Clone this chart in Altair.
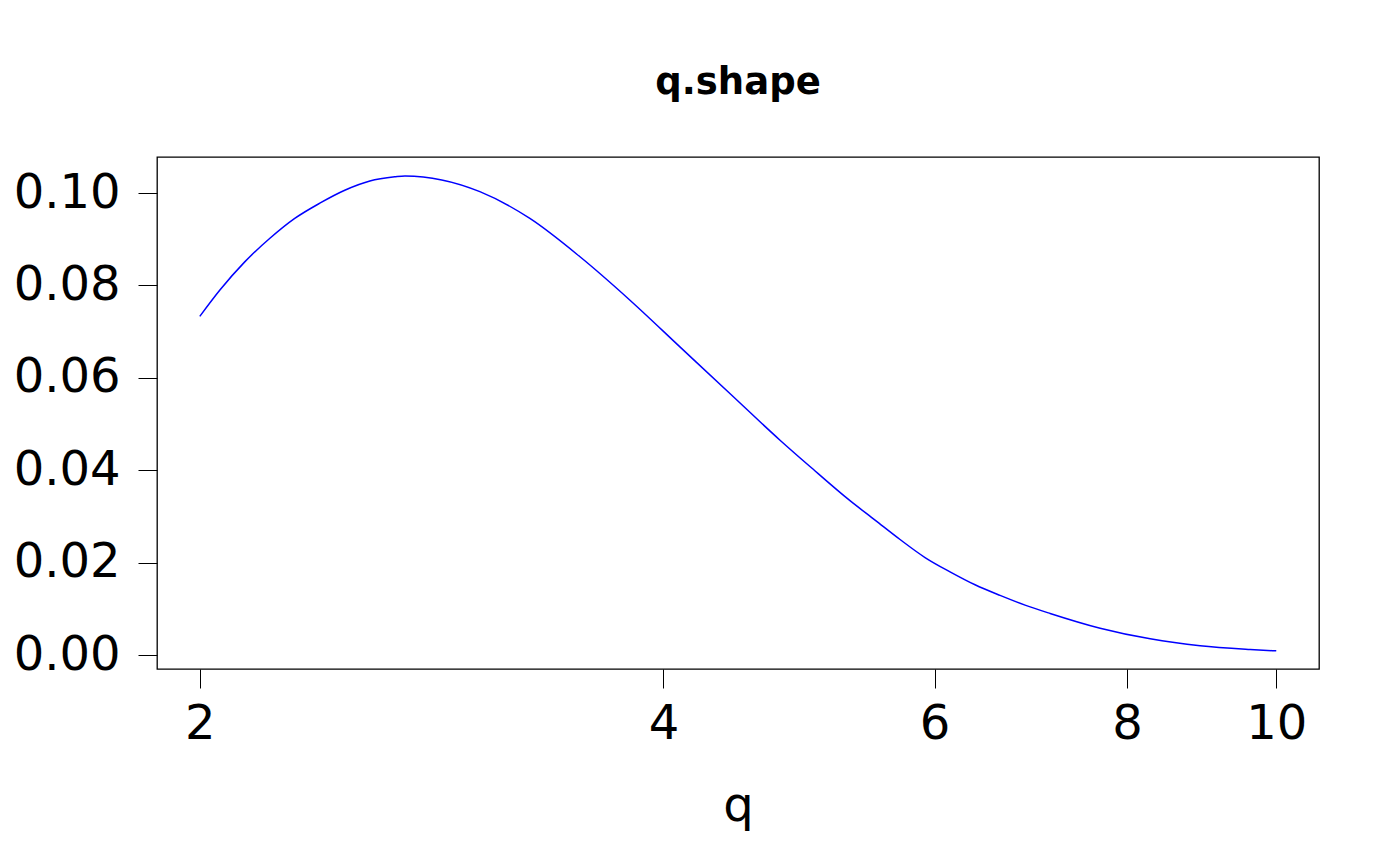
import altair as alt
import pandas as pd

q_vals = [2.000, 2.061, 2.139, 2.221, 2.305, 2.393, 2.484, 2.579, 2.677, 2.718,
          3.040, 3.276, 3.531, 3.805, 4.100, 4.418, 4.762, 4.980, 5.287, 5.489,
          5.698, 5.915, 6.140, 6.374, 6.617, 6.869, 7.131, 7.685, 8.282, 8.924,
          9.617, 10.000]
shape_vals = [0.0733, 0.0790, 0.0851, 0.0902, 0.0945, 0.0978, 0.1006, 0.1026, 0.1035, 0.1037,
              0.1003, 0.0945, 0.0862, 0.0768, 0.0667, 0.0566, 0.0465, 0.0408, 0.0334, 0.0292,
              0.0250, 0.0211, 0.0180, 0.0152, 0.0129, 0.0108, 0.0090, 0.0058, 0.0035, 0.0020,
              0.0012, 0.0009]
x_ticks = [2, 4, 6, 8, 10]
y_ticks = [0.0, 0.02, 0.04, 0.06, 0.08, 0.10]

df = pd.DataFrame({"q": q_vals, "shape": shape_vals})

FONT = "DejaVu Sans"

chart = alt.Chart(df).mark_line(color="#0000FF", strokeWidth=1.5, interpolate="monotone").encode(
    x=alt.X("q:Q",
            scale=alt.Scale(type="log", domain=[1.876, 10.66], nice=False, zero=False),
            axis=alt.Axis(values=x_ticks, format="d", title="q", grid=False, domain=False,
                          tickSize=19, tickColor="black", tickWidth=1,
                          labelFontSize=48, labelFont=FONT, labelColor="black",
                          labelPadding=12, labelFlush=False, labelOverlap=False,
                          titleFontSize=48, titleFont=FONT, titleFontWeight="normal",
                          titleColor="black", titlePadding=34)),
    y=alt.Y("shape:Q",
            scale=alt.Scale(domain=[-0.00303, 0.1078], nice=False, zero=False),
            axis=alt.Axis(values=y_ticks, format=".2f", title=None, grid=False, domain=False,
                          tickSize=19, tickColor="black", tickWidth=1,
                          labelFontSize=48, labelFont=FONT, labelColor="black",
                          labelPadding=18, labelFlush=False, labelOverlap=False)),
).properties(
    width=1162,
    height=512,
    title=alt.TitleParams("q.shape", font=FONT, fontSize=37, fontWeight="bold",
                          color="black", anchor="middle", offset=55),
    autosize=alt.AutoSizeParams(type="none"),
    padding={"left": 149, "top": 149, "right": 70, "bottom": 180},
).configure(
    background="white"
).configure_view(
    stroke="black", strokeWidth=1.3
)

chart.save("out.html", embed_options={"renderer": "svg", "actions": False})
